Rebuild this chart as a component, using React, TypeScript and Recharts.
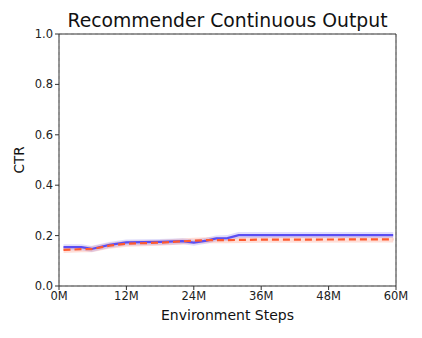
import { CartesianGrid, ComposedChart, Line, ReferenceLine, XAxis, YAxis } from 'recharts';

const stepsBlue = [0.8, 4, 5.8, 9, 12, 18, 22, 24, 26.3, 28, 30, 32, 59.5];
const ctrBlue = [0.154, 0.154, 0.147, 0.163, 0.173, 0.175, 0.178, 0.172, 0.18, 0.189, 0.19, 0.202, 0.202];
const stepsOrange = [0.8, 4, 5.8, 9, 12, 18, 24, 26.3, 30, 36, 59.5];
const ctrOrange = [0.143, 0.146, 0.146, 0.16, 0.168, 0.172, 0.18, 0.182, 0.182, 0.184, 0.185];

const xTicks = [0, 12, 24, 36, 48, 60];
const yTicks = [0, 0.2, 0.4, 0.6, 0.8, 1.0];

const blueData = stepsBlue.map((x, i) => ({ x, blue: ctrBlue[i] }));
const orangeData = stepsOrange.map((x, i) => ({ x, orange: ctrOrange[i] }));

const font = 'DejaVu Sans, sans-serif';
const tickStyle = { fill: '#222', fontSize: 11.5, fontFamily: font };

export default function App() {
  return (
    <div style={{ position: 'absolute', left: 0, top: 0, width: 422, height: 338, background: '#fff' }}>
      <div
        style={{
          position: 'absolute',
          left: 59,
          width: 337,
          top: 10,
          textAlign: 'center',
          fontFamily: font,
          fontSize: 18.8,
          color: '#111',
          lineHeight: '22px',
          whiteSpace: 'nowrap',
        }}
      >
        Recommender Continuous Output
      </div>
      <ComposedChart width={422} height={338} margin={{ top: 34, right: 26, bottom: 0, left: 0 }}>
        <CartesianGrid stroke="#d8d8d8" strokeDasharray="3 3" />
        <XAxis
          xAxisId="main"
          dataKey="x"
          type="number"
          domain={[0, 60]}
          ticks={xTicks}
          tickFormatter={(v) => `${v}M`}
          tick={tickStyle}
          tickSize={4}
          stroke="#333"
          height={52}
          allowDuplicatedCategory={false}
          label={{ value: 'Environment Steps', position: 'insideBottom', offset: 18, style: { fill: '#111', fontSize: 14, fontFamily: font } }}
        />
        <YAxis
          yAxisId="main"
          type="number"
          domain={[0, 1]}
          ticks={yTicks}
          tickFormatter={(v) => v.toFixed(1)}
          tick={tickStyle}
          tickSize={4}
          stroke="#333"
          width={59}
          label={{ value: 'CTR', angle: -90, position: 'insideLeft', offset: 19, style: { fill: '#111', fontSize: 13.5, fontFamily: font, textAnchor: 'middle' } }}
        />
        <ReferenceLine xAxisId="main" yAxisId="main" y={1} stroke="#333" />
        <ReferenceLine xAxisId="main" yAxisId="main" x={60} stroke="#333" />
        <Line xAxisId="main" yAxisId="main" data={orangeData} dataKey="orange" stroke="#ff7a60" strokeOpacity={0.25} strokeWidth={6} dot={false} isAnimationActive={false} />
        <Line xAxisId="main" yAxisId="main" data={blueData} dataKey="blue" stroke="#8078f0" strokeOpacity={0.25} strokeWidth={6} dot={false} isAnimationActive={false} />
        <Line xAxisId="main" yAxisId="main" data={blueData} dataKey="blue" stroke="#5b4ef2" strokeWidth={2.2} dot={false} isAnimationActive={false} />
        <Line xAxisId="main" yAxisId="main" data={orangeData} dataKey="orange" stroke="#ff5a2e" strokeWidth={2.2} strokeDasharray="7 4" dot={false} isAnimationActive={false} />
      </ComposedChart>
    </div>
  );
}
